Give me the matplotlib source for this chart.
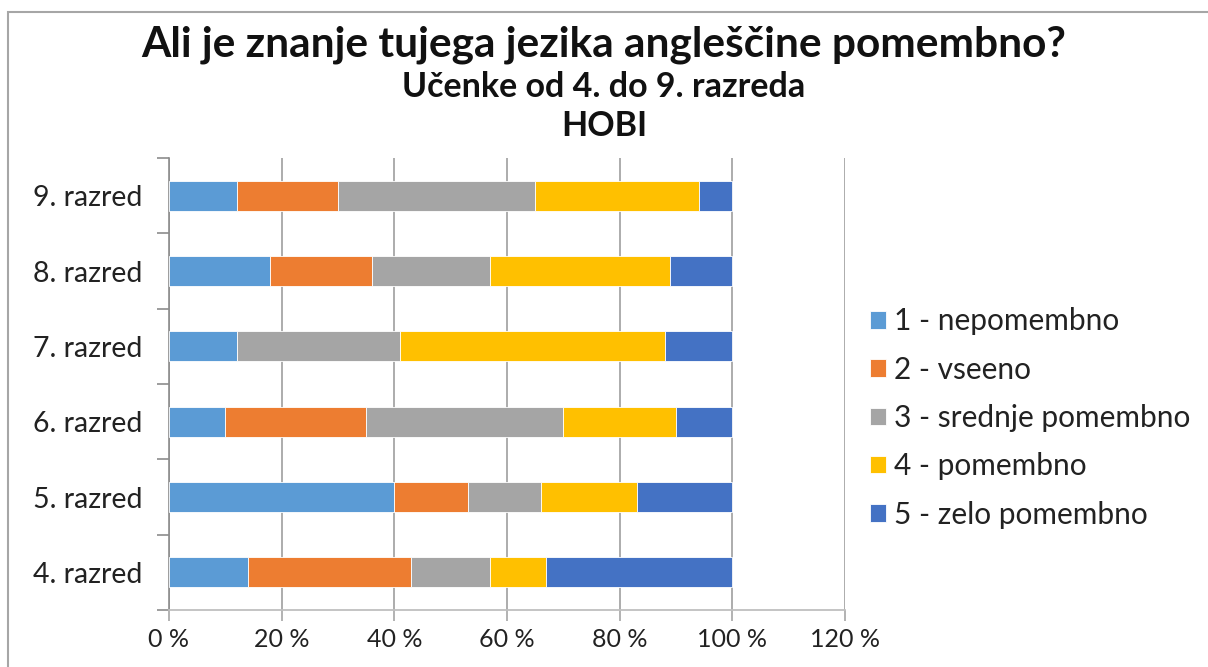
import numpy as np
import matplotlib.pyplot as plt
from matplotlib.patches import Rectangle
from matplotlib.ticker import FuncFormatter

plt.rcParams['font.family'] = ['Lato', 'DejaVu Sans']

grades = ['4. razred', '5. razred', '6. razred', '7. razred', '8. razred', '9. razred']
answers = ['1 - nepomembno', '2 - vseeno', '3 - srednje pomembno', '4 - pomembno', '5 - zelo pomembno']
colors = ['#5B9BD5', '#ED7D31', '#A5A5A5', '#FFC000', '#4472C4']

# share of answers per grade (%), order of grades as above
nepomembno = [14, 40, 10, 12, 18, 12]
vseeno = [29, 13, 25, 0, 18, 18]
srednje = [14, 13, 35, 29, 21, 35]
pomembno = [10, 17, 20, 47, 32, 29]
zelo = [33, 17, 10, 12, 11, 6]
series = [nepomembno, vseeno, srednje, pomembno, zelo]

fig = plt.figure(figsize=(12.08, 6.67), dpi=100)
ax = fig.add_axes([169 / 1208, 1 - 610 / 667, (845 - 169) / 1208, (610 - 158) / 667])

y = np.arange(len(grades))
left = np.zeros(len(grades))
for vals, name, col in zip(series, answers, colors):
    vals = np.array(vals, dtype=float) / 100
    ax.barh(y, vals, left=left, height=0.4, color=col, label=name,
            edgecolor='white', linewidth=0.6, zorder=3)
    left += vals

ax.set_xlim(0, 1.2)
ax.set_ylim(-0.5, len(grades) - 0.5)
ax.set_xticks(np.arange(0, 1.21, 0.2))
ax.xaxis.set_major_formatter(FuncFormatter(lambda v, p: f'{v * 100:.0f} %'))
ax.set_yticks(y)
ax.set_yticklabels(grades)
ax.set_yticks(np.arange(-0.5, len(grades), 1), minor=True)
ax.tick_params(axis='y', which='major', length=0, labelsize=20.5, pad=19, labelcolor='#222222')
ax.tick_params(axis='y', which='minor', length=9, color='#8C8C8C', width=1.2)
ax.tick_params(axis='x', which='major', length=8, color='#A6A6A6', width=1.2,
               labelsize=18, pad=5, labelcolor='#222222')
ax.grid(axis='x', color='#A6A6A6', linewidth=1.3, zorder=0)
for s in ['top', 'right']:
    ax.spines[s].set_visible(False)
ax.spines['left'].set_color('#8C8C8C')
ax.spines['left'].set_linewidth(1.2)
ax.spines['bottom'].set_color('#BFBFBF')
ax.spines['bottom'].set_linewidth(1.3)

leg = fig.legend(loc='center left', bbox_to_anchor=(870 / 1208, 1 - 418 / 667),
                 frameon=False, fontsize=21.5, handlelength=0.52, handleheight=0.52,
                 handletextpad=0.3, labelspacing=0.68, labelcolor='#222222',
                 borderpad=0, borderaxespad=0)

fig.text(0.5, 1 - 45 / 667, 'Ali je znanje tujega jezika angleščine pomembno?',
         ha='center', va='center', fontsize=30.5, fontweight='bold', color='#111111')
fig.text(0.5, 1 - 87 / 667, 'Učenke od 4. do 9. razreda',
         ha='center', va='center', fontsize=24.5, fontweight='bold', color='#111111')
fig.text(0.5, 1 - 126 / 667, 'HOBI',
         ha='center', va='center', fontsize=24.5, fontweight='bold', color='#111111')

fig.patches.append(Rectangle((8 / 1208, -0.1), 1.2, 1 - 12 / 667 + 0.1, transform=fig.transFigure,
                             fill=False, edgecolor='#A6A6A6', linewidth=1.5))

fig.savefig('out.png', dpi=100)
